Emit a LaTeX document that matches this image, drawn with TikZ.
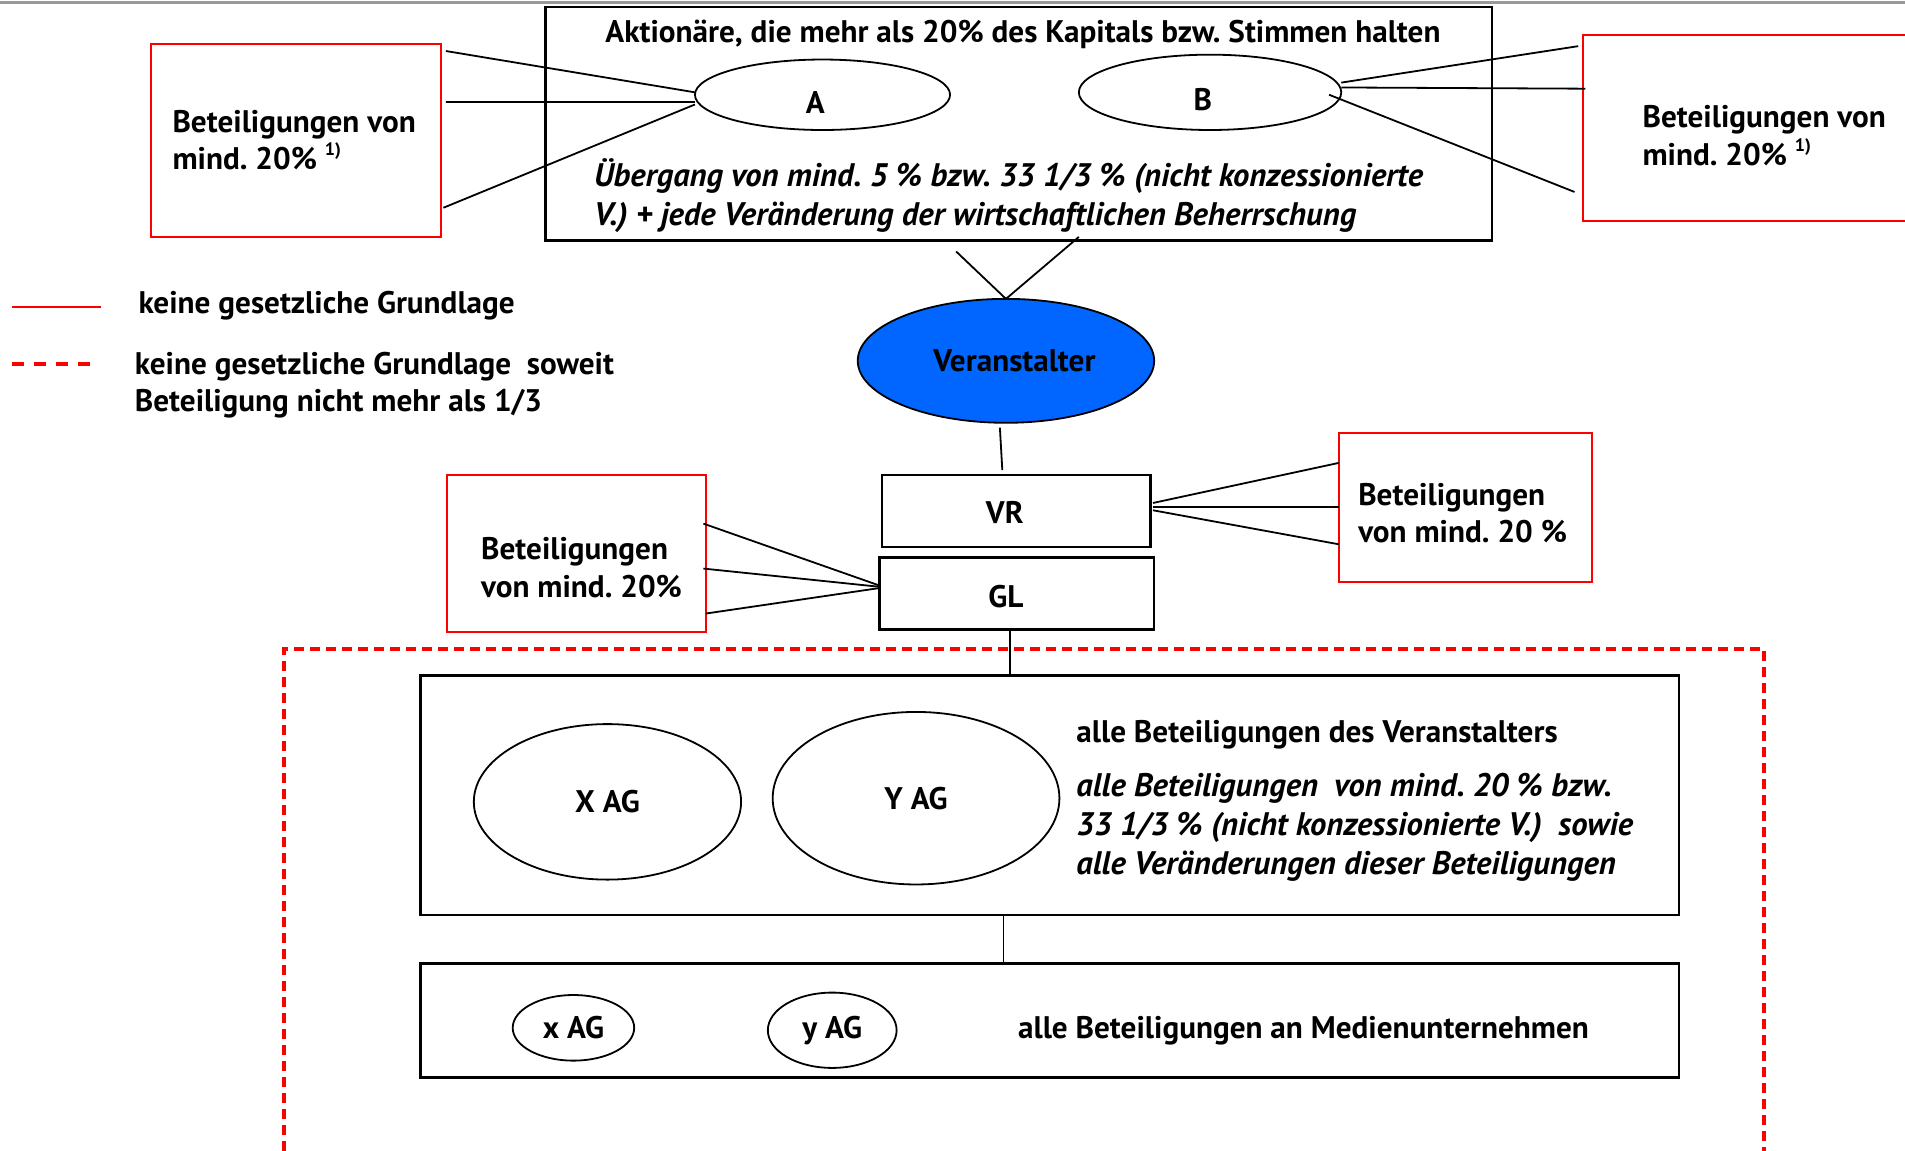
\documentclass[tikz,border=0pt]{standalone}
\usepackage{fontspec}
\setmainfont{PT Sans}
\usetikzlibrary{shapes.geometric,calc,fit}
\definecolor{vblue}{RGB}{0,102,255}
\def\u{0.6075pt}
\frenchspacing
\newcommand\supone{\raisebox{0.45em}{\fontsize{9}{9}\selectfont 1)}}
\begin{document}
\begin{tikzpicture}[x=0.6075pt,y=-0.6075pt,
  every node/.style={font=\bfseries\fontsize{15.6}{18.8}\selectfont, inner sep=0pt, outer sep=0pt},
  blackbox/.style={draw=black,line width=1.2pt,rectangle,inner sep=0pt},
  redbox/.style={draw=red,line width=1pt,rectangle,inner sep=0pt,align=left},
  ell/.style={draw=black,line width=0.9pt,ellipse,inner sep=0pt},
  conn/.style={draw=black,line width=0.9pt},
  itx/.style={font=\bfseries\itshape\fontsize{16.3}{19.4}\selectfont,align=left,anchor=west}]

\useasboundingbox (0,0) rectangle (1568,947);
\clip (0,0) rectangle (1568,947);

% top gray rule
\coordinate (gl1) at (0,2);
\coordinate (gl2) at (1568,2);
\draw[gray!80,line width=1.8pt] (gl1) -- (gl2);

% top box
\node[blackbox,fit={(449,6) (1228,198)}] (top) {};
\node (title) at (842,28) {Aktionäre, die mehr als 20\% des Kapitals bzw. Stimmen halten};
\node[ell,minimum width=210*\u,minimum height=58*\u] (A) at (677,78) {};
\node (At) at (671,84) {A};
\node[ell,minimum width=216*\u,minimum height=62*\u] (B) at (996,76) {};
\node (Bt) at (990,82) {B};
\node[itx] (ueb) at (489,161) {Übergang von mind. 5 \% bzw. 33 1/3 \% (nicht konzessionierte\\V.) + jede Veränderung der wirtschaftlichen Beherrschung};

% left top red box
\node[redbox,fit={(124,36) (363,195)}] (lbox) {};
\node[align=left,anchor=west] (lboxt) at (142,115.5) {Beteiligungen von\\mind. 20\% \supone};
\draw[conn] ($(lbox.north east)+(4,6)$) -- ($(A.west)+(0,-2)$);
\draw[conn] ($(lbox.east)+(4,-31.5)$) -- ($(A.west)+(0,6)$);
\draw[conn] ($(lbox.east)+(2,55.5)$) -- ($(A.west)+(0,8)$);

% right top red box
\node[redbox,fit={(1303,29) (1620,182)}] (rbox) {};
\node[align=left,anchor=west] (rboxt) at (1352,111.5) {Beteiligungen von\\mind. 20\% \supone};
\draw[conn] ($(B.east)+(0,-8)$) -- ($(rbox.north west)+(-4,9)$);
\draw[conn] ($(B.east)+(0,-4)$) -- ($(rbox.north west)+(2,44)$);
\draw[conn] ($(B.east)+(-10,2)$) -- ($(rbox.north west)+(-7,129)$);

% Veranstalter
\node[ell,fill=vblue,minimum width=244*\u,minimum height=102*\u] (V) at (828,297) {};
\node (Vt) at (835,297) {Veranstalter};
\coordinate (tl) at ($(top.south)+(-51.5,9)$);
\coordinate (tr) at ($(top.south)+(49.5,-3)$);
\draw[conn] (tl) -- (V.north) -- (tr);

% VR, GL
\node[blackbox,fit={(726,391) (947,450)}] (VR) {};
\node (VRt) at (827,422) {VR};
\node[blackbox,fit={(724,459) (950,518)}] (GL) {};
\node (GLt) at (828,491) {GL};
\draw[conn] ($(V.south)+(-5,4)$) -- ($(VR.north)+(-11.5,-4)$);

% right middle red box
\node[redbox,fit={(1102,356) (1310,479)}] (rbox2) {};
\node[align=left,anchor=west] (rbox2t) at (1118,422.5) {Beteiligungen\\von mind. 20 \%};
\draw[conn] ($(VR.east)+(2,-6.5)$) -- ($(rbox2.north west)+(0,25)$);
\draw[conn] ($(VR.east)+(2,-3.5)$) -- ($(rbox2.north west)+(0,61)$);
\draw[conn] ($(VR.east)+(2,-0.5)$) -- ($(rbox2.north west)+(0,92)$);

% left middle red box
\node[redbox,fit={(368,391) (581,520)}] (lbox2) {};
\node[align=left,anchor=west] (lbox2t) at (396,467) {Beteiligungen\\von mind. 20\%};
\draw[conn] ($(lbox2.north east)+(-2,40)$) -- ($(GL.west)+(0,-6.5)$);
\draw[conn] ($(lbox2.north east)+(-2,77)$) -- ($(GL.west)+(0,-5.5)$);
\draw[conn] ($(lbox2.north east)+(0,114)$) -- ($(GL.west)+(0,-4.5)$);

% dashed red region
\coordinate (d1) at (234,1000);
\coordinate (d2) at (234,534);
\coordinate (d3) at (1452,534);
\coordinate (d4) at (1452,1000);
\draw[red,line width=1.8pt,dash pattern=on 5pt off 3pt] (d1) -- (d2) -- (d3) -- (d4);

% box 1
\node[blackbox,fit={(346,556) (1382,753)}] (b1) {};
\draw[conn] ($(GL.south)+(-6,0)$) -- ($(b1.north)+(-33,0)$);
\node[ell,minimum width=220*\u,minimum height=128*\u] (X) at (500,660) {X AG};
\node[ell,minimum width=236*\u,minimum height=142*\u] (Y) at (754,657) {Y AG};
\node[anchor=west] (b1t) at (886,605) {alle Beteiligungen des Veranstalters};
\node[itx] (b1i) at (886,681) {alle Beteiligungen\ \ von mind. 20 \% bzw.\\33 1/3 \% (nicht konzessionierte V.)\ \ sowie\\alle Veränderungen dieser Beteiligungen};

% box 2
\node[blackbox,fit={(346,793) (1382,887)}] (b2) {};
\draw[conn] ($(b1.south)+(-38,0)$) -- ($(b2.north)+(-38,0)$);
\node[ell,minimum width=100*\u,minimum height=54*\u] (xs) at (472,846) {x AG};
\node[ell,minimum width=106*\u,minimum height=62*\u] (ys) at (685,848) {y AG};
\node[anchor=west] (b2t) at (838,848) {alle Beteiligungen an Medienunternehmen};

% legend
\coordinate (la) at (10,253);
\coordinate (lb) at (83,253);
\draw[red,line width=1pt] (la) -- (lb);
\node[anchor=west] (lt1) at (114,252) {keine gesetzliche Grundlage};
\coordinate (lc) at (10,300);
\coordinate (ld) at (82,300);
\draw[red,line width=2pt,dash pattern=on 6pt off 5pt] (lc) -- (ld);
\node[anchor=west,align=left] (lt2) at (111,317) {keine gesetzliche Grundlage\ \ soweit\\Beteiligung nicht mehr als 1/3};
\end{tikzpicture}
\end{document}
